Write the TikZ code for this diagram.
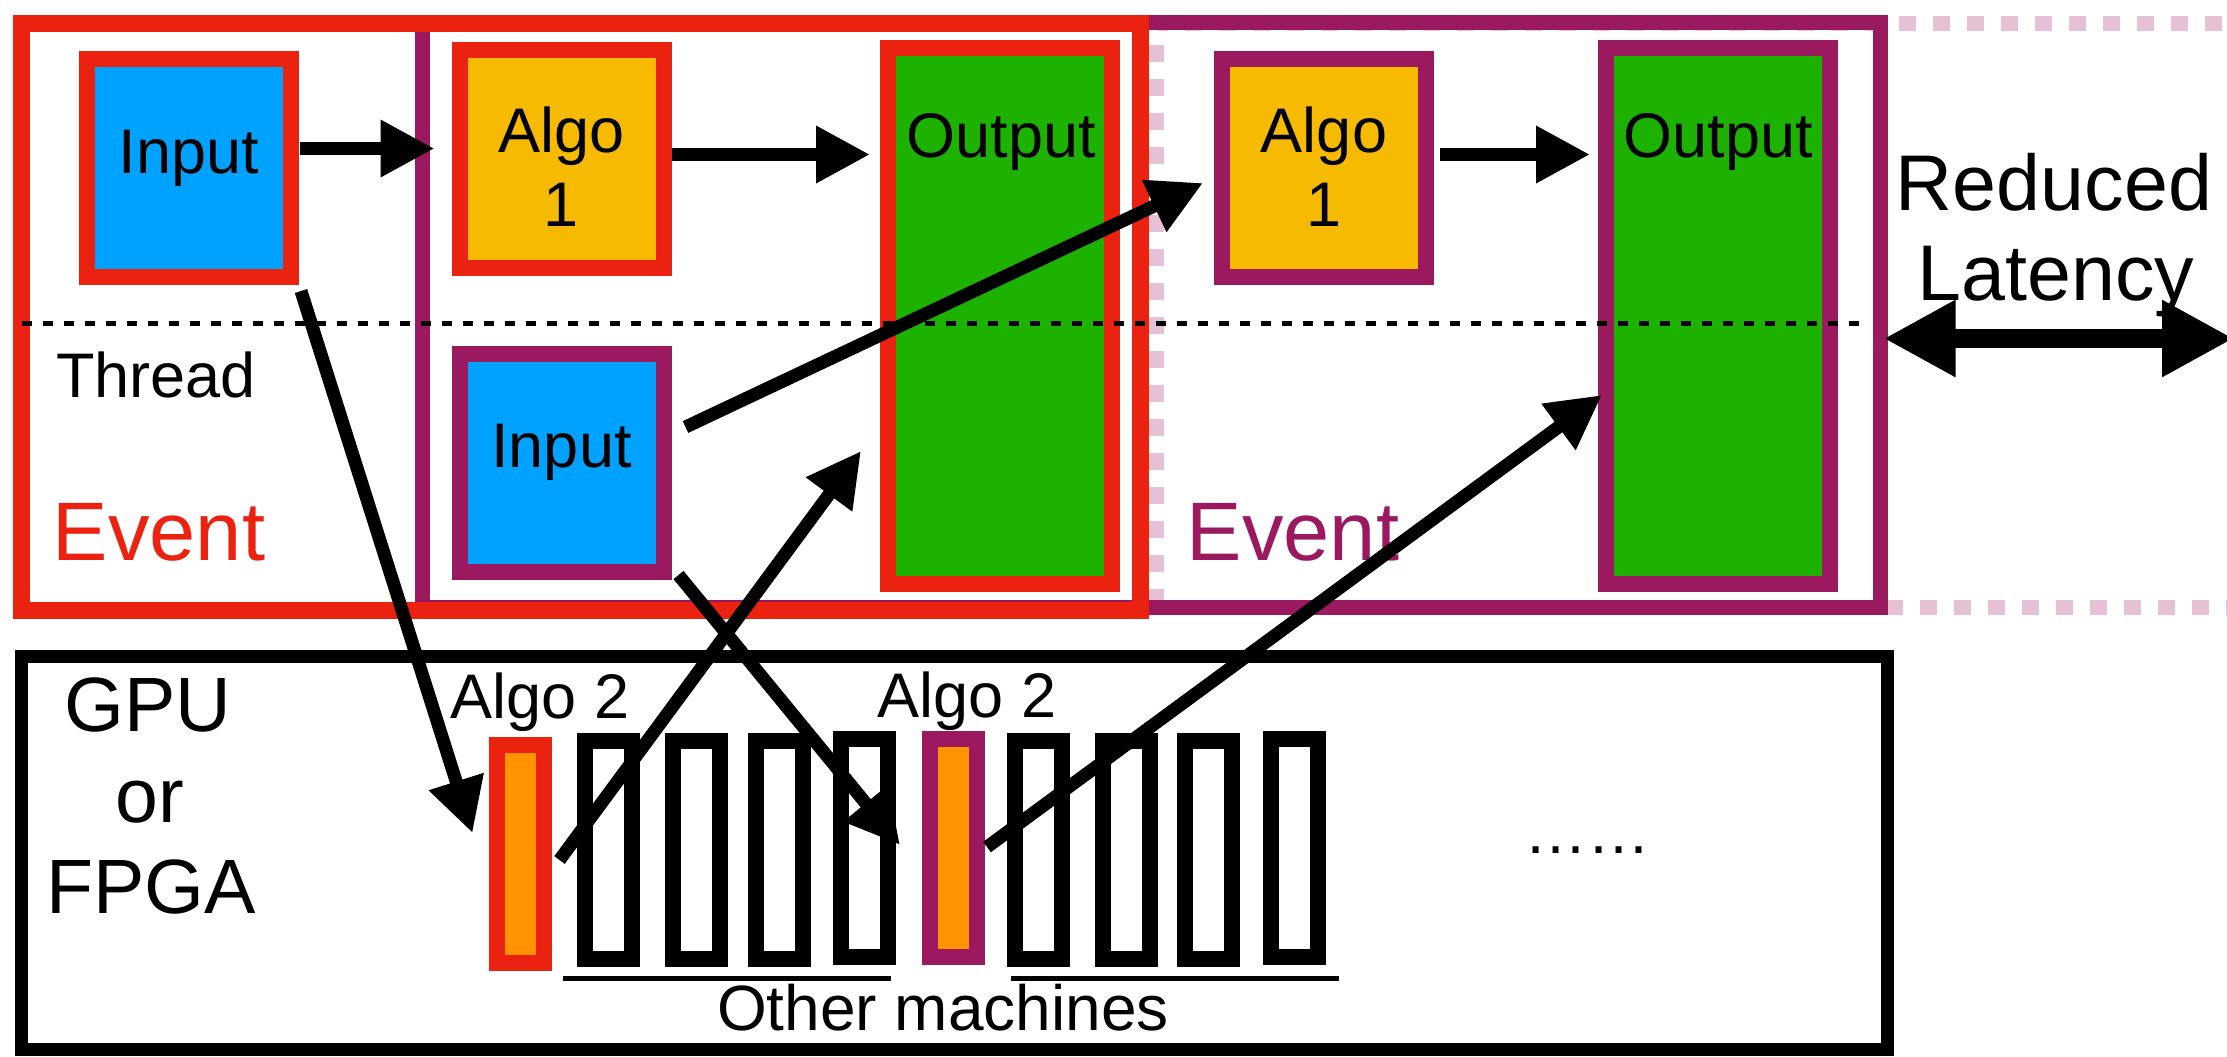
\documentclass[tikz,border=0pt]{standalone}
\usepackage{fontspec}
\setmainfont{Liberation Sans}
\usetikzlibrary{arrows.meta,calc}

\definecolor{evred}{RGB}{236,34,16}
\definecolor{evpurple}{RGB}{155,25,95}
\definecolor{inblue}{RGB}{0,162,255}
\definecolor{algoyellow}{RGB}{246,186,0}
\definecolor{outgreen}{RGB}{29,177,0}
\definecolor{algoorange}{RGB}{255,147,0}
\definecolor{ghostpink}{RGB}{230,192,212}

\begin{document}
\begin{tikzpicture}[x=0.5pt,y=-0.5pt,
  stage/.style={draw, line width=8pt, inner sep=0pt, minimum width=102pt, minimum height=109pt},
  outbox/.style={draw, line width=8pt, inner sep=0pt, minimum width=112pt, minimum height=268pt, fill=outgreen},
  event/.style={draw, inner sep=0pt},
  slot/.style={draw, line width=8pt, inner sep=0pt, minimum width=23.5pt, minimum height=109pt},
  txt/.style={inner sep=0pt, anchor=base, font=\fontsize{31.5pt}{37pt}\selectfont},
  big/.style={inner sep=0pt, anchor=base, font=\fontsize{39.5pt}{46pt}\selectfont},
  evtxt/.style={inner sep=0pt, anchor=base, font=\fontsize{41.5pt}{48pt}\selectfont},
  arr/.style={line width=6.5pt, -{Triangle[length=27pt,width=27pt]}},
]
\useasboundingbox (0,0) rectangle (2227,1056);
\clip (0,0) rectangle (2227,1056);

% next event slot, shown dashed
\draw[ghostpink, line width=7.5pt, dash pattern=on 8.5pt off 8.5pt] (2290,23) -- (1156,23) -- (1156,607) -- (2290,607);

% the two events
\node[event, draw=evpurple, line width=7.5pt, minimum width=729pt, minimum height=292.5pt] (ev2) at (1151.5,315) {};
\node[event, draw=evred, line width=8.5pt, minimum width=559.5pt, minimum height=293.5pt] (ev1) at (581,317) {};

% stages of the first event
\node[stage, draw=evred, fill=inblue] (in1) at (189,168) {};
\node[stage, draw=evred, fill=algoyellow] (al1) at (561.5,159) {};
\node[outbox, draw=evred] (out1) at (1000,316) {};

% stages of the second event
\node[stage, draw=evpurple, fill=inblue] (in2) at (561.5,463) {};
\node[stage, draw=evpurple, fill=algoyellow] (al2) at (1324,168) {};
\node[outbox, draw=evpurple] (out2) at (1718,316) {};

% thread separator
\coordinate (thrL) at (22,323);
\coordinate (thrR) at (1862,323);
\draw[line width=2.5pt, dash pattern=on 5pt off 5.5pt] (thrL) -- (thrR);

% labels in the event area
\node[txt] (tin1) at (189,173) {Input};
\node[txt] (tal1a) at (561.5,152) {Algo};
\node[txt] (tal1b) at (561.5,226) {1};
\node[txt] (tout1) at (1001,157) {Output};
\node[txt] (tin2) at (561.5,467) {Input};
\node[txt] (tal2a) at (1324,152) {Algo};
\node[txt] (tal2b) at (1324,226) {1};
\node[txt] (tout2) at (1718,157) {Output};
\node[txt] (thr) at (156,397) {Thread};
\node[evtxt, text=evred] (tev1) at (159,560) {Event};
\node[evtxt, text=evpurple] (tev2) at (1293,560) {Event};
\node[big] (red) at (2054,210) {Reduced};
\node[big] (lat) at (2056,300) {Latency};

% accelerator
\node[event, draw=black, line width=6.5pt, minimum width=933pt, minimum height=196.5pt] (gpu) at (954.5,853) {};
\node[big, font=\fontsize{38.5pt}{46pt}\selectfont] (tgpu) at (148,731) {GPU};
\node[big, font=\fontsize{38.5pt}{46pt}\selectfont] (tor) at (150,822) {or};
\node[big, font=\fontsize{38.5pt}{46pt}\selectfont] (tfpga) at (151,913) {FPGA};

\node[slot, draw=evred, fill=algoorange] (a2r) at (520,853.5) {};
\node[slot] (m1) at (608.5,850) {};
\node[slot] (m2) at (696,850) {};
\node[slot] (m3) at (779.5,850) {};
\node[slot] (m4) at (864,848) {};
\node[slot, draw=evpurple, fill=algoorange] (a2p) at (953.5,848) {};
\node[slot] (m5) at (1038,850) {};
\node[slot] (m6) at (1126,850) {};
\node[slot] (m7) at (1208.5,850) {};
\node[slot] (m8) at (1294.5,848) {};

\node[txt] (ta2r) at (540,718) {Algo 2};
\node[txt] (ta2p) at (967,717) {Algo 2};

\coordinate (u1a) at (563,978);
\coordinate (u1b) at (891,978);
\coordinate (u2a) at (1011,978);
\coordinate (u2b) at (1339,978);
\draw[line width=2.5pt] (u1a) -- (u1b);
\draw[line width=2.5pt] (u2a) -- (u2b);
\node[txt, font=\fontsize{32pt}{38pt}\selectfont] (tother) at (943,1030) {Other machines};
\node[txt] (tdots) at (1587,853) {……};

% data flow
\draw[arr] ($(in1.east)+(1,-19.5)$) -- ($(al1.west)+(-17,-10.5)$);
\draw[arr] ($(al1.east)+(0,-4.5)$) -- ($(out1.west)+(-10,-161.5)$);
\draw[arr] ($(al2.east)+(6,-13.5)$) -- ($(out2.west)+(-8,-161.5)$);
\draw[arr] ($(in1.south east)+(2,6)$) -- ($(a2r.west)+(-16,-20.5)$);
\draw[arr] ($(a2r.east)+(8,6.5)$) -- ($(out1.west)+(-19,135)$);
\draw[arr] ($(in2.south east)+(7,-5)$) -- ($(a2p.west)+(-22,-3)$);
\draw[arr] ($(in2.east)+(14,-36)$) -- ($(al2.west)+(-11,15)$);
\draw[arr] ($(a2p.east)+(2,-1)$) -- ($(out2.west)+(4,79)$);

% latency gain
\coordinate (latR) at (2234,338.5);
\draw[line width=9.5pt, {Triangle[length=36pt,width=36pt]}-{Triangle[length=36pt,width=36pt]}] ($(ev2.east)+(-4.5,23.5)$) -- (latR);
\end{tikzpicture}
\end{document}
